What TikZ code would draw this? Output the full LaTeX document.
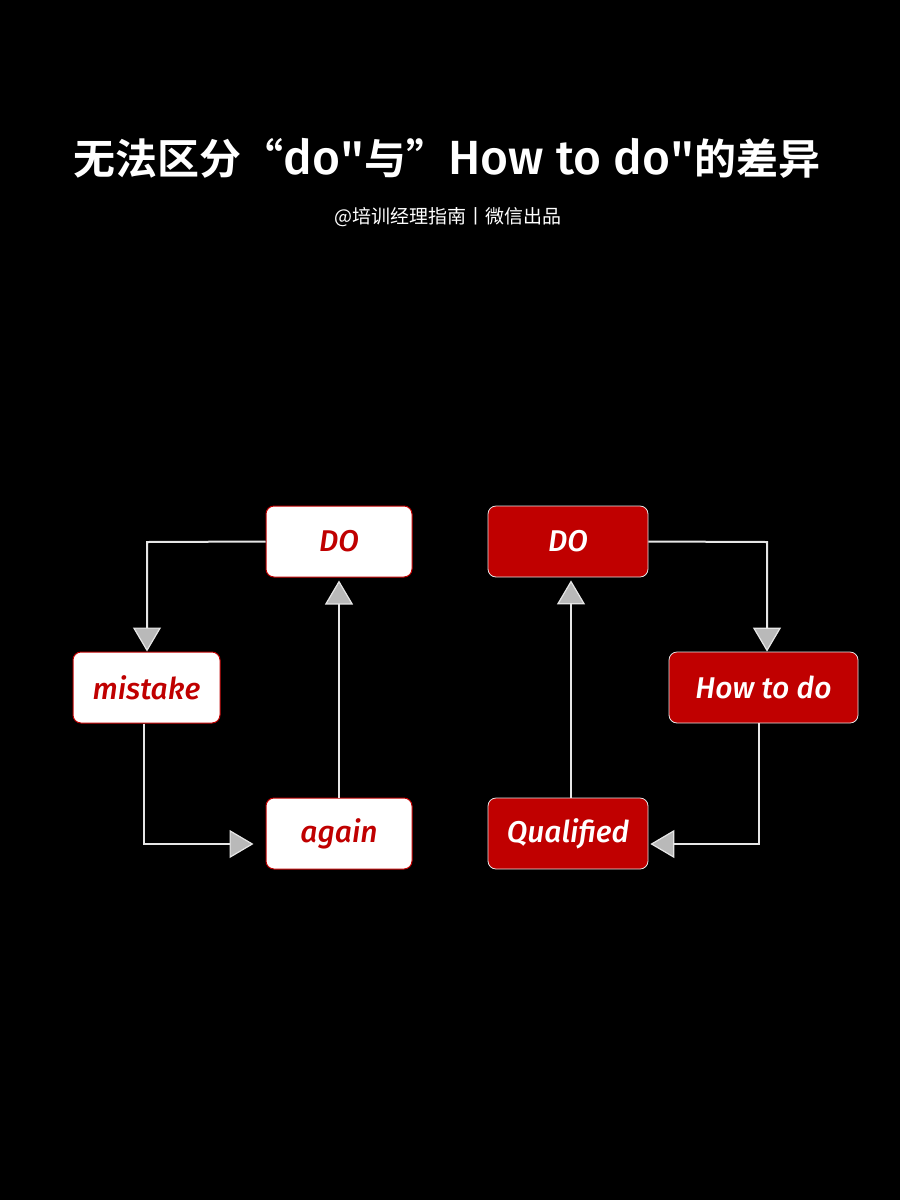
\documentclass[tikz,border=0pt]{standalone}
\usepackage{fontspec}
\usetikzlibrary{arrows.meta,calc}
\newfontfamily\cjkb{Noto Sans CJK SC Bold}
\newfontfamily\cjk{Noto Sans CJK SC}
\newfontfamily\latb{Fira Sans Medium}
\newfontfamily\latr{Fira Sans}
\definecolor{dred}{HTML}{C00000}
\definecolor{lgray}{HTML}{E6E6E6}
\tikzset{
  whitebox/.style={draw=dred, line width=1pt, fill=white, rounded corners=8pt, text=dred,
    minimum height=71pt, inner sep=0pt, font=\latb\itshape\fontsize{30}{31}\selectfont},
  redbox/.style={draw=lgray, line width=0.8pt, fill=dred, rounded corners=8pt, text=white,
    minimum height=71pt, inner sep=0pt, font=\latb\itshape\fontsize{30}{31}\selectfont},
  conn/.style={draw=lgray, line width=2pt,
    -{Triangle[length=24pt,width=28pt,fill=gray!55,color=lgray,line width=1.2pt]}}
}
\begin{document}
\begin{tikzpicture}[x=1pt,y=-1pt]
\useasboundingbox (0,0) rectangle (900,1200);
\fill[black] (0,0) rectangle (900,1200);
% titles
\node[text=white, font=\cjkb\fontsize{42}{46}\selectfont, inner sep=0pt] (title) at (447,158)
  {无法区分“{\latb\fontsize{48}{50}\selectfont do}"与”{\latb\fontsize{48}{50}\selectfont How to do}"的差异};
\node[text=white, font=\cjk\fontsize{19}{21}\selectfont, inner sep=0pt] (sub) at (448,217)
  {@培训经理指南丨微信出品};
% left cycle
\node[whitebox, minimum width=146pt] (ldo) at (339,541.5) {DO};
\node[whitebox, minimum width=147pt] (mist) at (146.5,687.5) {mistake};
\node[whitebox, minimum width=146pt] (again) at (339,833.5) {again};
% right cycle
\node[redbox, minimum width=160pt] (rdo) at (568,541.5) {DO};
\node[redbox, minimum width=189pt] (how) at (763.5,687.5) {How to do};
\node[redbox, minimum width=160pt] (qual) at (568,833.5) {Qualified};
% connectors
\coordinate (c1) at (147,542);
\draw[conn] (ldo.west) -- (c1) -- (mist.north -| c1);
\coordinate (c2) at (144,844);
\draw[conn, shorten >=12pt] (mist.south -| c2) -- (c2) -- (again.west |- c2);
\draw[conn, shorten >=3pt] (again.north) -- (ldo.south);
\coordinate (c3) at (767,542);
\draw[conn] (rdo.east) -- (c3) -- (how.north -| c3);
\coordinate (c4) at (759,844);
\draw[conn, shorten >=2pt] (how.south -| c4) -- (c4) -- (qual.east |- c4);
\coordinate (c5) at (571,798);
\draw[conn, shorten >=3pt] (c5) -- (rdo.south -| c5);
\end{tikzpicture}
\end{document}
